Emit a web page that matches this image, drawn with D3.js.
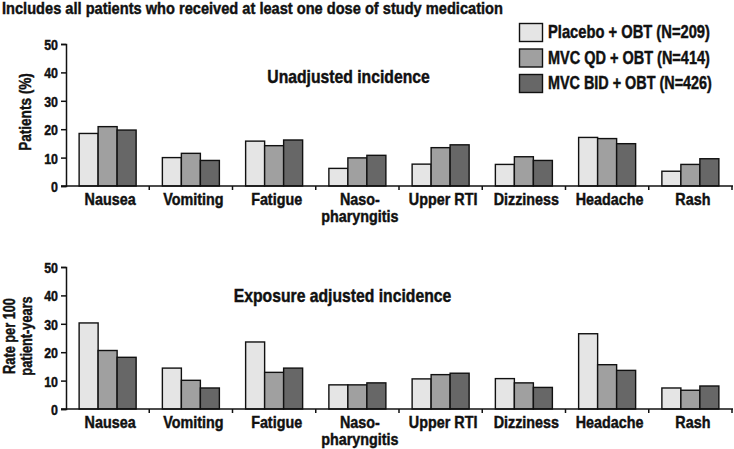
<!DOCTYPE html>
<html>
<head>
<meta charset="utf-8">
<script src="https://cdn.jsdelivr.net/npm/d3@7/dist/d3.min.js"></script>
<style>
  html, body { margin: 0; padding: 0; background: #fff; }
  svg { display: block; }
  text { font-family: "Liberation Sans", Arial, sans-serif; font-weight: bold; fill: #111; stroke: #111; stroke-width: 0.45px; }
</style>
</head>
<body>
<svg id="chart" width="734" height="449"></svg>
<script>
const categories = ["Nausea", "Vomiting", "Fatigue", "Naso-\npharyngitis", "Upper RTI", "Dizziness", "Headache", "Rash"];
const seriesNames = ["Placebo + OBT (N=209)", "MVC QD + OBT (N=414)", "MVC BID + OBT (N=426)"];
const unadjPlacebo = [18.5, 10.0, 15.8, 6.2, 7.7, 7.6, 17.1, 5.2];
const unadjQD      = [20.9, 11.5, 14.2, 9.9, 13.5, 10.3, 16.7, 7.6];
const unadjBID     = [19.7, 9.0, 16.2, 10.8, 14.5, 9.0, 14.9, 9.6];
const expPlacebo   = [30.3, 14.4, 23.6, 8.5, 10.6, 10.7, 26.5, 7.4];
const expQD        = [20.6, 10.1, 12.9, 8.5, 12.1, 9.2, 15.6, 6.6];
const expBID       = [18.2, 7.4, 14.4, 9.2, 12.6, 7.6, 13.6, 8.1];
const yTicks = [0, 10, 20, 30, 40, 50];
const colors = ["#e5e5e5", "#a0a0a0", "#676767"];

const svg = d3.select("#chart");

// narrow (condensed) text helper: horizontal squeeze
function ntext(parent, x, y, str, size, sx, anchor) {
  return parent.append("text")
    .attr("transform", `translate(${x},${y}) scale(${sx},1)`)
    .attr("text-anchor", anchor || "start")
    .style("font-size", size + "px")
    .text(str);
}

ntext(svg, 2, 14, "Includes all patients who received at least one dose of study medication", 17, 0.86);

function panel(top, bottom, values, title, titleX, titleY, ylabLines, ylabScale) {
  const x0 = d3.scaleBand().domain(categories).range([66, 732]).paddingInner(0).paddingOuter(0);
  const x1 = d3.scaleBand().domain([0, 1, 2]).range([0, 57]);
  const groupOff = (x0.bandwidth() - 57) / 2;
  const y = d3.scaleLinear().domain([0, 50]).range([bottom, top]);
  const g = svg.append("g");

  categories.forEach((c, i) => {
    values.forEach((arr, s) => {
      g.append("rect")
        .attr("x", x0(c) + groupOff + x1(s))
        .attr("y", y(arr[i]))
        .attr("width", x1.bandwidth())
        .attr("height", y(0) - y(arr[i]))
        .attr("fill", colors[s])
        .attr("stroke", "#111")
        .attr("stroke-width", 1.4);
    });
  });

  // y axis
  const yAxis = d3.axisLeft(y).tickValues(yTicks).tickSize(5).tickPadding(3);
  const ya = g.append("g").attr("transform", "translate(66,0)").call(yAxis);
  ya.select(".domain").attr("stroke", "#111").attr("stroke-width", 1.5);
  ya.selectAll(".tick line").attr("stroke", "#111").attr("stroke-width", 1.5);
  ya.selectAll(".tick text").each(function () {
    const t = d3.select(this);
    const tx = +t.attr("x");
    t.attr("x", null).attr("dy", "0.36em")
      .attr("transform", `translate(${tx},0) scale(0.8,1)`)
      .style("font-size", "15.5px").style("font-family", null).attr("fill", "#111").attr("stroke", "#111");
  });

  // x axis
  const xa = g.append("g").attr("transform", `translate(0,${bottom})`);
  xa.append("line").attr("x1", 61).attr("x2", 733).attr("y1", 0).attr("y2", 0)
    .attr("stroke", "#111").attr("stroke-width", 1.5);
  categories.forEach((c, i) => {
    xa.append("line").attr("x1", x0(c) + x0.bandwidth()).attr("x2", x0(c) + x0.bandwidth())
      .attr("y1", 0).attr("y2", 4).attr("stroke", "#111").attr("stroke-width", 1.5);
    const cx = x0(c) + x0.bandwidth() / 2 + 2.5;
    c.split("\n").forEach((l, k) => ntext(xa, cx, 19 + k * 17, l, 16.5, 0.87, "middle"));
  });

  ntext(svg, titleX, titleY, title, 18.5, 0.85, "middle");

  const cy = (top + bottom) / 2;
  ylabLines.forEach((l, k) => {
    const lx = ylabLines.length === 1 ? 31 : 15 + k * 17;
    const ly = ylabLines.length === 1 ? cy - 3 : cy - 2;
    svg.append("text").attr("transform", `translate(${lx},${ly}) rotate(-90) scale(${ylabScale},1)`)
      .attr("text-anchor", "middle").style("font-size", "17px").text(l);
  });
}

panel(44, 186, [unadjPlacebo, unadjQD, unadjBID], "Unadjusted incidence", 348.5, 83, ["Patients (%)"], 0.8);
panel(267, 409, [expPlacebo, expQD, expBID], "Exposure adjusted incidence", 342.5, 302, ["Rate per 100", "patient-years"], 0.75);

// legend
const legendTextWidths = [162, 162, 164];
const leg = svg.append("g");
seriesNames.forEach((n, i) => {
  const yy = 23.5 + i * 25.5;
  leg.append("rect").attr("x", 519.5).attr("y", yy).attr("width", 23).attr("height", 18)
    .attr("fill", colors[i]).attr("stroke", "#111").attr("stroke-width", 1.4);
  const t = ntext(leg, 548, yy + 14.5, n, 18, 1);
  const natural = t.node().getComputedTextLength();
  t.attr("transform", `translate(548,${yy + 14.5}) scale(${legendTextWidths[i] / natural},1)`);
});
</script>
</body>
</html>
